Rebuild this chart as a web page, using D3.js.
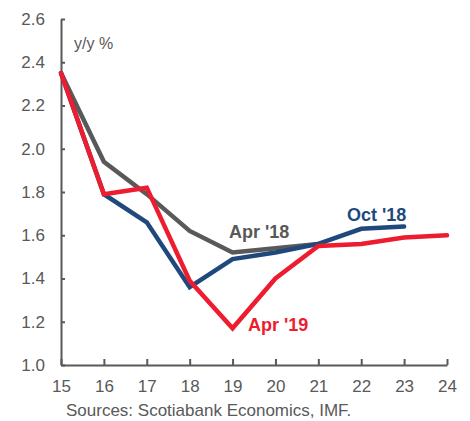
<!DOCTYPE html>
<html>
<head>
<meta charset="utf-8">
<script src="https://cdn.jsdelivr.net/npm/d3@7"></script>
<style>
  body { margin: 0; background: #fff; }
  text { font-family: "Liberation Sans", Arial, sans-serif; }
</style>
</head>
<body>
<script>
// years on x axis (2015..2024 shown as 15..24)
const years = [15, 16, 17, 18, 19, 20, 21, 22, 23, 24]
const yTicks = [1.0, 1.2, 1.4, 1.6, 1.8, 2.0, 2.2, 2.4, 2.6]

// forecast vintages
const apr18 = [2.35, 1.94, 1.79, 1.62, 1.52, 1.54, 1.56]
const oct18 = [2.35, 1.79, 1.66, 1.36, 1.49, 1.52, 1.56, 1.63, 1.64]
const apr19 = [2.35, 1.79, 1.82, 1.39, 1.17, 1.40, 1.55, 1.56, 1.59, 1.60]

const series = [
  {name: "Apr '18", values: apr18, color: "#595959", lx: 229, ly: 238},
  {name: "Oct '18", values: oct18, color: "#1F497D", lx: 347, ly: 221},
  {name: "Apr '19", values: apr19, color: "#ED1C2E", lx: 248, ly: 331}
]

let margin = {top: 19, right: 23, bottom: 56, left: 61},
    width = 470 - margin.left - margin.right,
    height = 421 - margin.top - margin.bottom

let svg = d3.select("body").append("svg")
  .attr("width", 470).attr("height", 421)
  .append("g")
  .attr("transform", "translate(" + margin.left + "," + margin.top + ")")

let x = d3.scaleLinear().domain([15, 24]).range([0, width])
let y = d3.scaleLinear().domain([1.0, 2.6]).range([height, 0])

const axisColor = "#595959"

// y axis, ticks pointing inward
let yAx = svg.append("g")
  .call(d3.axisRight(y).tickValues(yTicks).tickFormat(d3.format(".1f")).tickSize(4).tickSizeOuter(0))
yAx.select(".domain").attr("stroke", axisColor).attr("stroke-width", 2)
yAx.selectAll(".tick line").attr("stroke", axisColor).attr("stroke-width", 2)
yAx.selectAll(".tick text").attr("x", -16).attr("text-anchor", "end")
  .attr("fill", axisColor).style("font-size", "17px")

// x axis, ticks pointing up
let xAx = svg.append("g")
  .attr("transform", "translate(0," + height + ")")
  .call(d3.axisBottom(x).tickValues(years).tickFormat(d3.format("d")).tickSize(0).tickSizeOuter(0))
xAx.select(".domain").attr("stroke", axisColor).attr("stroke-width", 2)
xAx.selectAll(".tick line").attr("y1", -6).attr("y2", 0).attr("stroke", axisColor).attr("stroke-width", 2)
xAx.selectAll(".tick text").attr("y", 15).attr("fill", axisColor).style("font-size", "17px")

svg.append("text").attr("x", 13).attr("y", 30)
  .attr("fill", axisColor).style("font-size", "16px").text("y/y %")

let line = d3.line()
  .x((d, i) => x(years[i]))
  .y(d => y(d))

series.forEach(s => {
  svg.append("path")
    .datum(s.values)
    .attr("fill", "none")
    .attr("stroke", s.color)
    .attr("stroke-width", 4.5)
    .attr("stroke-linejoin", "miter")
    .attr("stroke-linecap", "round")
    .attr("d", line)
})

series.forEach(s => {
  svg.append("text")
    .attr("x", s.lx - margin.left).attr("y", s.ly - margin.top)
    .attr("fill", s.color).style("font-size", "18px").style("font-weight", "bold")
    .text(s.name)
})

d3.select("svg").append("text")
  .attr("x", 66).attr("y", 416)
  .attr("fill", axisColor).style("font-size", "17px")
  .text("Sources: Scotiabank Economics, IMF.")
</script>
</body>
</html>
